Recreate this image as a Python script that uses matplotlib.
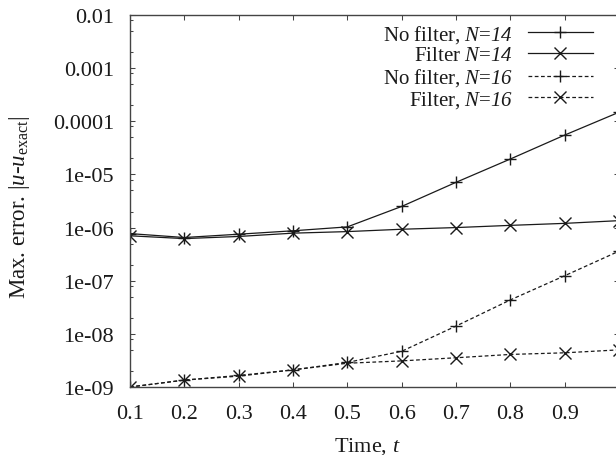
import matplotlib
matplotlib.use("Agg")
import matplotlib.pyplot as plt
from matplotlib.ticker import FixedLocator, FixedFormatter, LogLocator, NullFormatter

# Error history for the solver with and without the filter
time = [0.1, 0.2, 0.3, 0.4, 0.5, 0.6, 0.7, 0.8, 0.9, 1.0]
nofilter_n14 = [7.7e-7, 6.5e-7, 7.5e-7, 8.7e-7, 1.03e-6, 2.5e-6, 7.1e-6, 1.95e-5, 5.5e-5, 1.48e-4]
filter_n14 = [7.0e-7, 6.2e-7, 6.8e-7, 7.85e-7, 8.4e-7, 9.3e-7, 1.0e-6, 1.1e-6, 1.2e-6, 1.35e-6]
nofilter_n16 = [1.0e-9, 1.35e-9, 1.65e-9, 2.1e-9, 2.9e-9, 4.7e-9, 1.4e-8, 4.35e-8, 1.24e-7, 3.6e-7]
filter_n16 = [1.0e-9, 1.35e-9, 1.6e-9, 2.1e-9, 2.8e-9, 3.1e-9, 3.55e-9, 4.1e-9, 4.4e-9, 5.0e-9]

series_labels = [r"No filter, $\mathsf{N}$=$\mathsf{14}$", r"Filter $\mathsf{N}$=$\mathsf{14}$",
                 r"No filter, $\mathsf{N}$=$\mathsf{16}$", r"Filter, $\mathsf{N}$=$\mathsf{16}$"]

xtick_values = [0.1, 0.2, 0.3, 0.4, 0.5, 0.6, 0.7, 0.8, 0.9]
xtick_labels = ["0.1", "0.2", "0.3", "0.4", "0.5", "0.6", "0.7", "0.8", "0.9"]
ytick_values = [1e-2, 1e-3, 1e-4, 1e-5, 1e-6, 1e-7, 1e-8, 1e-9]
ytick_labels = ["0.01", "0.001", "0.0001", "1e-05", "1e-06", "1e-07", "1e-08", "1e-09"]

plt.rcParams["font.family"] = ["Liberation Serif", "DejaVu Serif"]
plt.rcParams["mathtext.fontset"] = "custom"
plt.rcParams["mathtext.rm"] = "Liberation Serif"
plt.rcParams["mathtext.it"] = "Liberation Serif:italic"
# italic digits for the resolution labels
plt.rcParams["mathtext.sf"] = "Liberation Serif:italic"
plt.rcParams["font.size"] = 15

ink = "#1a1a1a"
frame = "#444444"

fig = plt.figure(figsize=(6.16, 4.56), dpi=100)
ax = fig.add_axes([130 / 616, 1 - 388 / 456, 489 / 616, 372 / 456])

dash = (0, (3, 2))
ax.plot(time, nofilter_n14, color=ink, lw=0.9, marker="+", ms=8.5, mew=1.0,
        label=series_labels[0])
ax.plot(time, filter_n14, color=ink, lw=0.9, marker="x", ms=8.5, mew=1.0,
        label=series_labels[1])
ax.plot(time, nofilter_n16, color=ink, lw=0.9, ls=dash, marker="+", ms=8.5, mew=1.0,
        label=series_labels[2])
ax.plot(time, filter_n16, color=ink, lw=0.9, ls=dash, marker="x", ms=8.5, mew=1.0,
        label=series_labels[3])

ax.set_yscale("log")
ax.set_xlim(0.1, 1.0)
ax.set_ylim(1e-9, 1e-2)

ax.xaxis.set_major_locator(FixedLocator(xtick_values))
ax.xaxis.set_major_formatter(FixedFormatter(xtick_labels))
ax.yaxis.set_major_locator(FixedLocator(ytick_values))
ax.yaxis.set_major_formatter(FixedFormatter(ytick_labels))
ax.yaxis.set_minor_locator(LogLocator(base=10, subs=[2, 5, 8], numticks=50))
ax.yaxis.set_minor_formatter(NullFormatter())

ax.tick_params(which="both", direction="in", top=True, right=True,
               colors=frame, labelcolor=ink, width=0.75, labelsize=16)
ax.tick_params(which="major", length=3.6)
ax.tick_params(which="minor", length=2.0)
ax.tick_params(axis="x", which="major", pad=12)
ax.tick_params(axis="y", which="major", pad=11.5)

for s in ax.spines.values():
    s.set_color(frame)
    s.set_linewidth(1.0)

ax.set_xlabel(r"Time, $t$", color=ink, fontsize=16)
ax.xaxis.set_label_coords(0.485, -0.129)
ax.set_ylabel(r"Max. error. $|u$-$u_{\mathrm{exact}}|$", color=ink, fontsize=16.5)
ax.yaxis.set_label_coords(-0.200, 0.487)

leg = ax.legend(loc="upper right", bbox_to_anchor=(0.947, 0.979), frameon=False,
                markerfirst=False, numpoints=1, handlelength=3.13,
                handletextpad=0.72, labelspacing=0.05, borderpad=0,
                borderaxespad=0)
for txt in leg.get_texts():
    txt.set_color(ink)

fig.savefig("out.png", dpi=100)
